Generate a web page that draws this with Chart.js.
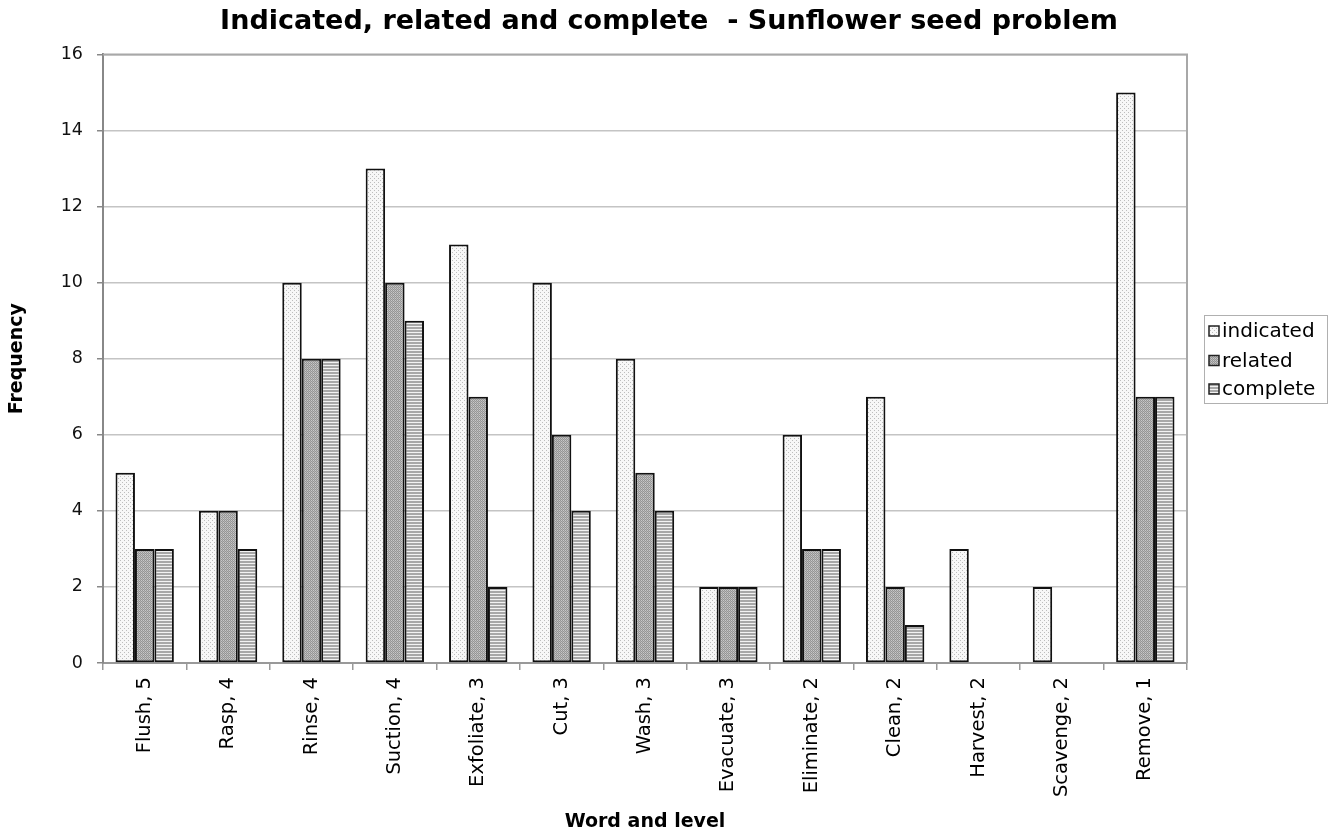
<!DOCTYPE html>
<html><head><meta charset="utf-8">
<script src="https://cdn.jsdelivr.net/npm/chart.js@4"></script>
<style>html,body{margin:0;padding:0;background:#fff}#wrap{width:1334px;height:835px}</style>
</head><body><div id="wrap"><canvas id="c" width="1334" height="835"></canvas></div>
<script>
const categories = ["Flush, 5","Rasp, 4","Rinse, 4","Suction, 4","Exfoliate, 3","Cut, 3","Wash, 3","Evacuate, 3","Eliminate, 2","Clean, 2","Harvest, 2","Scavenge, 2","Remove, 1"];
const seriesNames = ["indicated","related","complete"];
const indicated = [5,4,10,13,11,10,8,2,6,7,3,2,15];
const related   = [3,4,8,10,7,6,5,2,3,2,0,0,7];
const complete  = [3,3,8,9,2,4,4,2,3,1,0,0,7];
const yTicks = [0,2,4,6,8,10,12,14,16];

function makePattern(kind){
  const c=document.createElement('canvas');
  const x=c.getContext('2d');
  if(kind==='dots'){
    c.width=4;c.height=4;x.fillStyle='#f7f7f7';x.fillRect(0,0,4,4);
    x.fillStyle='#bdbdbd';x.fillRect(0,0,1,1);x.fillRect(2,2,1,1);
  } else if(kind==='gray'){
    c.width=2;c.height=2;x.fillStyle='#b4b4b4';x.fillRect(0,0,2,2);
    x.fillStyle='#959595';x.fillRect(0,0,1,1);x.fillRect(1,1,1,1);
    x.fillStyle='#c8c8c8';x.fillRect(1,0,1,1);
  } else {
    c.width=3;c.height=3;x.fillStyle='#a8a8a8';x.fillRect(0,0,3,3);
    x.fillStyle='#f2f2f2';x.fillRect(0,2,3,1);
  }
  return x.createPattern(c,'repeat');
}
const fills=[makePattern('dots'),makePattern('gray'),makePattern('stripes')];

const customLegend={id:'customLegend',afterDraw(chart){
  const ca=chart.chartArea,ctx=chart.ctx;
  const bx=Math.round(ca.right+17), by=Math.round((ca.top+ca.bottom)/2-44), bw=123, bh=88;
  ctx.save();
  ctx.strokeStyle='#b0b0b0';ctx.lineWidth=1;ctx.strokeRect(bx+0.5,by+0.5,bw,bh);
  ctx.font='20px "DejaVu Sans"';ctx.fillStyle='#000';ctx.textBaseline='middle';ctx.textAlign='left';
  const rows=[16,45.5,74];
  chart.data.datasets.forEach((d,i)=>{
    const cy=by+rows[i];
    ctx.fillStyle=d.backgroundColor;ctx.fillRect(bx+5,cy-5,10,10);
    ctx.strokeStyle='#222';ctx.lineWidth=1.5;ctx.strokeRect(bx+5,cy-5,10,10);
    ctx.fillStyle='#000';ctx.fillText(d.label,bx+18,cy+1);
  });
  ctx.restore();
}};
const plotBorder={id:'plotBorder',afterDatasetsDraw(chart){
  const a=chart.chartArea,ctx=chart.ctx;ctx.save();
  ctx.strokeStyle='#a8a8a8';ctx.lineWidth=2;
  ctx.beginPath();ctx.moveTo(a.left,a.top);ctx.lineTo(a.right,a.top);ctx.lineTo(a.right,a.bottom);ctx.stroke();
  ctx.restore();
}};

const values=[indicated,related,complete];
const datasets=seriesNames.map((n,i)=>({label:n,data:values[i],backgroundColor:fills[i],borderColor:'#111',borderWidth:2,borderSkipped:false,categoryPercentage:0.7,barPercentage:1.0,yAxisID:'y'}));

new Chart(document.getElementById('c'),{
  type:'bar',
  data:{labels:categories,datasets},
  options:{
    responsive:false,animation:false,
    layout:{padding:{left:4,right:0,top:1,bottom:0}},
    plugins:{
      title:{display:true,text:'Indicated, related and complete  - Sunflower seed problem',font:{family:'DejaVu Sans',size:27,weight:'bold'},color:'#000',padding:{top:5,bottom:16}},
      legend:{display:false},
      tooltip:{enabled:false}
    },
    scales:{
      x:{afterFit(s){s.height=172;},
        grid:{display:true,offset:true,drawOnChartArea:false,drawTicks:true,tickLength:7,color:'#999',lineWidth:1.5},border:{color:'#999',width:2},
        ticks:{minRotation:90,maxRotation:90,autoSkip:false,font:{family:'DejaVu Sans',size:19.5},color:'#000',padding:7},
        title:{display:true,text:'Word and level',font:{family:'DejaVu Sans',size:19,weight:'bold'},color:'#000',padding:{top:0,bottom:2}}},
      y:{min:0,max:16,afterFit(s){s.width=99;},afterBuildTicks(ax){ax.ticks=yTicks.map(v=>({value:v}));},
        grid:{color:'#c4c4c4',lineWidth:1.5,tickLength:6,tickColor:'#888'},border:{color:'#888',width:2},
        ticks:{font:{family:'DejaVu Sans',size:17.5},color:'#111',padding:14},
        title:{display:true,text:'Frequency',font:{family:'DejaVu Sans',size:19,weight:'bold'},color:'#000',padding:{top:2,bottom:0}}},
      yR:{position:'right',display:true,min:0,max:16,afterFit(s){s.width=147;},
        grid:{display:false},border:{display:false},ticks:{display:false}}
    }
  },
  plugins:[customLegend,plotBorder]
});
</script></body></html>
